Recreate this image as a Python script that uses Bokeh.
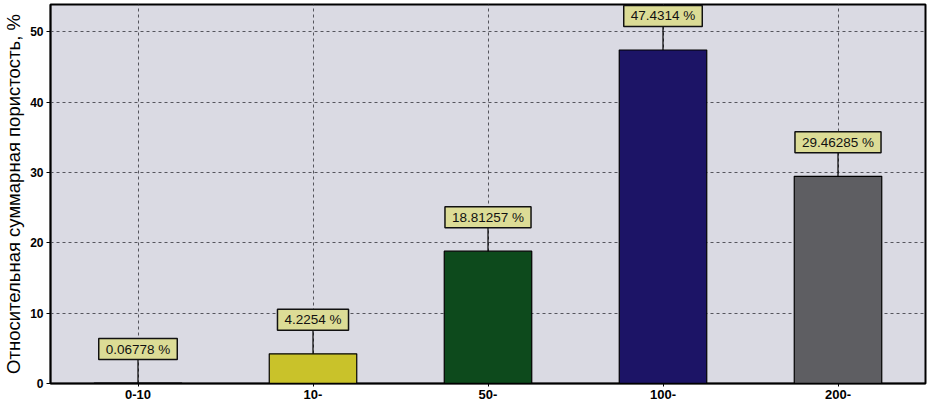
from bokeh.plotting import figure
from bokeh.models import ColumnDataSource, Range1d, FactorRange, GlobalInlineStyleSheet
from bokeh.core.properties import value
from bokeh.embed import file_html
from bokeh.resources import INLINE

categories = ["0-10", "10-", "50-", "100-", "200-"]
values = [0.06778, 4.2254, 18.81257, 47.4314, 29.46285]
label_texts = ["0.06778 %", "4.2254 %", "18.81257 %", "47.4314 %", "29.46285 %"]
bar_colors = ["#b01010", "#c9c22a", "#0d4a1c", "#1c1466", "#5e5e62"]
y_title = "Относительная суммарная пористость, %"

leader = 3.4  # length of the leader line in data units

src = ColumnDataSource(dict(
    cat=categories, val=values, txt=label_texts, col=bar_colors,
    top_line=[v + leader for v in values],
))

p = figure(x_range=FactorRange(*categories), y_range=Range1d(0, 53.9),
           width=932, height=401, output_backend="svg", toolbar_location=None,
           min_border_top=4, min_border_right=7, min_border_left=49, min_border_bottom=10)
p.stylesheets = [GlobalInlineStyleSheet(css="html, body { overflow: hidden; }")]

p.background_fill_color = "#dadae3"
p.border_fill_color = "white"
p.outline_line_color = "black"
p.outline_line_width = 2

p.vbar(x="cat", top="val", width=0.5, bottom=0, fill_color="col",
       line_color="black", line_width=1.2, source=src)
p.segment(x0="cat", y0="val", x1="cat", y1="top_line", line_color="black",
          line_width=1.2, source=src)

p.text(x="cat", y="val", text="txt", source=src, y_offset=-34,
       text_align="center", text_baseline="middle",
       text_font=value("Liberation Sans"), text_font_size="13.5px", text_color="#111111",
       background_fill_color="#dcdc96", border_line_color="#111111",
       border_line_width=1.5, padding=dict(x=7, y=3))

p.xgrid.grid_line_color = "#55555c"
p.xgrid.grid_line_dash = "3 3"
p.ygrid.grid_line_color = "#55555c"
p.ygrid.grid_line_dash = "3 3"

p.yaxis.ticker = [0, 10, 20, 30, 40, 50]
p.yaxis.axis_label = y_title
p.yaxis.axis_label_text_font = "Liberation Sans"
p.yaxis.axis_label_text_font_style = "normal"
p.yaxis.axis_label_text_font_size = "18.5px"
p.yaxis.axis_label_text_color = "black"
p.yaxis.axis_label_standoff = 3
p.yaxis.major_label_text_font = "Liberation Sans"
p.yaxis.major_label_text_font_size = "12px"
p.yaxis.major_label_text_font_style = "bold"
p.yaxis.major_label_text_color = "black"
p.yaxis.major_label_standoff = 3
p.yaxis.major_tick_out = 4
p.yaxis.major_tick_in = 0
p.yaxis.minor_tick_out = 2
p.yaxis.minor_tick_in = 0
p.yaxis.axis_line_color = "black"
p.yaxis.axis_line_width = 1.5

p.xaxis.major_label_text_font = "Liberation Sans"
p.xaxis.major_label_text_font_size = "13px"
p.xaxis.major_label_text_font_style = "bold"
p.xaxis.major_label_text_color = "black"
p.xaxis.major_label_standoff = 3
p.xaxis.major_tick_out = 3
p.xaxis.major_tick_in = 0
p.xaxis.axis_line_color = "black"
p.xaxis.axis_line_width = 1.5

open("out.html", "w").write(file_html(p, INLINE))
